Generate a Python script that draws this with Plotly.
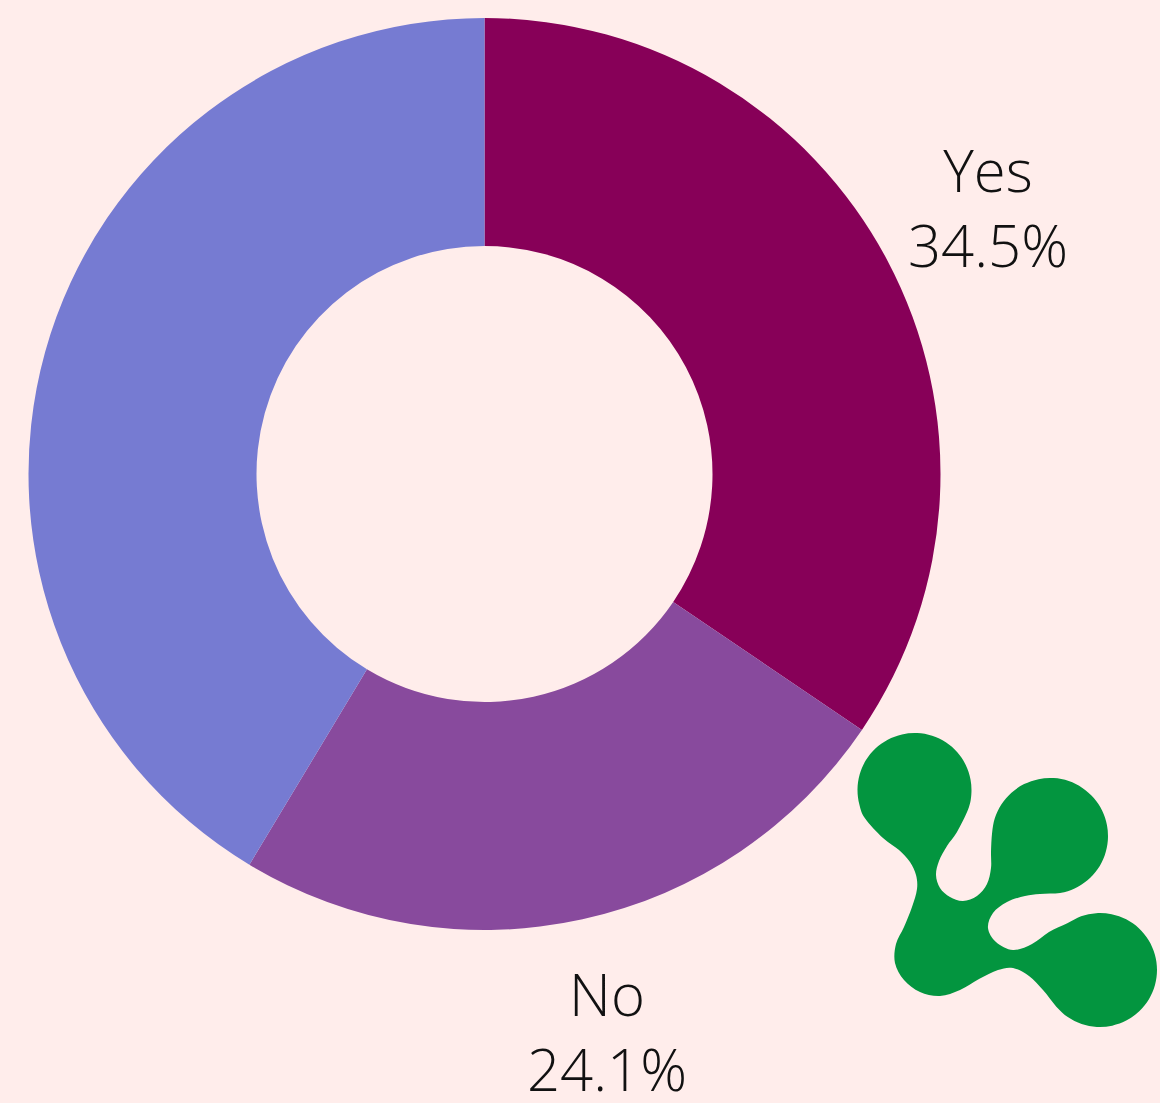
import math
import plotly.graph_objects as go

# ---- data ----
labels = ["Yes", "No", "Other"]
values = [10, 7, 12]
colors = ["#870058", "#884A9D", "#767BD2"]
show_label = [True, True, False]

W, H = 1160, 1103
BG = "#FFEDEB"
DOM_X = [0, 969 / W]
DOM_Y = [1 - 930 / H, 1 - 18 / H]
LABEL_DIST = 1.25

fig = go.Figure(go.Pie(
    labels=labels,
    values=values,
    hole=0.5,
    sort=False,
    direction="clockwise",
    rotation=0,
    marker=dict(colors=colors, line=dict(width=0)),
    textinfo="none",
    showlegend=False,
    domain=dict(x=DOM_X, y=DOM_Y),
    hoverinfo="label+percent",
))

# labels placed along each slice's mid-angle, derived from the values
total = sum(values)
box_w = W * (DOM_X[1] - DOM_X[0])
box_h = H * (DOM_Y[1] - DOM_Y[0])
r = min(box_w, box_h) / 2
cx = W * (DOM_X[0] + DOM_X[1]) / 2
cy = H * (1 - (DOM_Y[0] + DOM_Y[1]) / 2)
cum = 0
for lab, v, show in zip(labels, values, show_label):
    mid = (cum + v / 2) / total * 2 * math.pi
    cum += v
    if not show:
        continue
    px = cx + LABEL_DIST * r * math.sin(mid)
    py = cy - LABEL_DIST * r * math.cos(mid)
    fig.add_annotation(
        x=px / W, y=1 - py / H, xref="paper", yref="paper",
        text=f"{lab}<br>{v / total * 100:.1f}%",
        showarrow=False, xanchor="center", yanchor="middle",
        font=dict(family="Open Sans", size=58, color="#111111", weight=300),
    )

# ---- decorative logo (pixel outline -> paper coords) ----
def arc(cx_, cy_, rr, a0, a1, step=15):
    pts = []
    n = max(2, int(abs(a1 - a0) / step))
    for i in range(n + 1):
        a = math.radians(a0 + (a1 - a0) * i / n)
        pts.append((cx_ + rr * math.cos(a), cy_ + rr * math.sin(a)))
    return pts

pts = []
pts += arc(914.5, 790, 57, 150, 380)
pts += [(957, 832), (947, 846), (939, 861), (936, 875), (940, 888), (950, 897),
        (963, 901), (977, 896), (987, 884), (991, 868), (991, 852)]
pts += arc(1050, 836, 58, 183, 440)
pts += [(1040, 894), (1025, 896), (1007, 902), (993, 913), (988, 928), (996, 942),
        (1013, 950), (1032, 944), (1049, 932)]
pts += arc(1100, 970, 57, 235, 500)
pts += [(1043, 990), (1029, 976), (1013, 968), (998, 970), (979, 979), (960, 990),
        (940, 996), (920, 992), (904, 980), (895, 963), (896, 944), (904, 927),
        (912, 907), (917, 889), (916, 875), (910, 862), (899, 850), (883, 838)]

def to_paper(p):
    return (p[0] / W, 1 - p[1] / H)

def catmull(points):
    n = len(points)
    P = [to_paper(p) for p in points]
    d = "M %.5f,%.5f " % P[0]
    for i in range(n):
        p0, p1, p2, p3 = P[i - 1], P[i], P[(i + 1) % n], P[(i + 2) % n]
        c1 = (p1[0] + (p2[0] - p0[0]) / 6, p1[1] + (p2[1] - p0[1]) / 6)
        c2 = (p2[0] - (p3[0] - p1[0]) / 6, p2[1] - (p3[1] - p1[1]) / 6)
        d += "C %.5f,%.5f %.5f,%.5f %.5f,%.5f " % (c1 + c2 + p2)
    return d + "Z"

fig.add_shape(type="path", path=catmull(pts), xref="paper", yref="paper",
              fillcolor="#03953F", line=dict(width=0), layer="above")

fig.update_layout(
    width=W, height=H,
    margin=dict(l=0, r=0, t=0, b=0),
    paper_bgcolor=BG, plot_bgcolor=BG,
    font=dict(family="Open Sans"),
)

fig.write_html(
    "out.html",
    config={"displayModeBar": False},
    post_script="document.body.style.margin='0';document.body.style.overflow='hidden';"
                "document.body.style.background='#FFEDEB';",
)
